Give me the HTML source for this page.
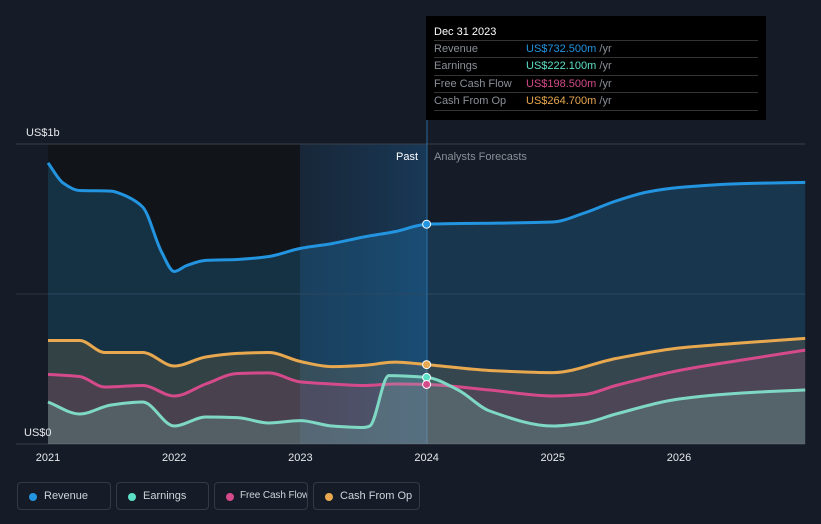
<!DOCTYPE html>
<html><head><meta charset="utf-8"><style>
body{margin:0;background:#161c27;font-family:"Liberation Sans",sans-serif;}
#wrap{position:relative;width:821px;height:524px;overflow:hidden;background:#161c27}
.tt{position:absolute;left:426px;top:16px;width:340px;height:104px;background:#000;color:#fff;font-size:11px}
.tt .h{position:absolute;left:8px;top:10px;font-size:11px}
.row{position:absolute;left:8px;width:324px;height:17px;border-top:1px solid #333;color:#8a8f98;line-height:17px}
.row span{position:absolute;left:92px}
.lg{position:absolute;top:482px;height:28px;border:1px solid #333a46;border-radius:4px;color:#cfd3da;font-size:11px;line-height:26px;box-sizing:border-box;padding-left:26px;white-space:nowrap;overflow:hidden}
.lg i{position:absolute;left:11px;top:10px;width:8px;height:8px;border-radius:50%}
</style></head><body><div id="wrap">
<svg id="svg" width="821" height="524" style="position:absolute;left:0;top:0">
<defs><linearGradient id="pg" x1="0" x2="1"><stop offset="0" stop-color="#1a3c5a" stop-opacity="0.35"/><stop offset="1" stop-color="#1a4c78" stop-opacity="0.6"/></linearGradient></defs>
<rect x="48" y="144" width="252" height="300" fill="#111519"/>
<rect x="300" y="144" width="127" height="300" fill="url(#pg)"/>
<line x1="16" x2="805" y1="144" y2="144" stroke="#3a404b"/>
<line x1="16" x2="805" y1="294" y2="294" stroke="#2c333e"/>
<line x1="16" x2="805" y1="444" y2="444" stroke="#3a404b"/>
<line x1="427" x2="427" y1="120" y2="444" stroke="#2a6a9a"/>
<g id="series"></g>
<text x="26" y="136" fill="#e6e8eb" font-size="11">US$1b</text>
<text x="24" y="436" fill="#e6e8eb" font-size="11">US$0</text>
<text x="418" y="160" fill="#fff" font-size="11" text-anchor="end">Past</text>
<text x="434" y="160" fill="#8a8f98" font-size="11">Analysts Forecasts</text>
<g id="xt"></g>
</svg>
<div class="tt">
<div class="h">Dec 31 2023</div>
<div class="row" style="top:24px">Revenue<span style="color:#2394df">US$732.500m <b style="color:#8a8f98;font-weight:normal">/yr</b></span></div>
<div class="row" style="top:41px">Earnings<span style="color:#5ce0c8">US$222.100m <b style="color:#8a8f98;font-weight:normal">/yr</b></span></div>
<div class="row" style="top:59px">Free Cash Flow<span style="color:#d44a8a">US$198.500m <b style="color:#8a8f98;font-weight:normal">/yr</b></span></div>
<div class="row" style="top:76px;border-bottom:1px solid #333">Cash From Op<span style="color:#e8a84f">US$264.700m <b style="color:#8a8f98;font-weight:normal">/yr</b></span></div>
</div>
<div class="lg" style="left:17px;width:94px"><i style="background:#2394df"></i>Revenue</div>
<div class="lg" style="left:116px;width:93px"><i style="background:#5ce0c8"></i>Earnings</div>
<div class="lg" style="left:214px;width:94px;font-size:10px;letter-spacing:-0.1px;padding-left:25px"><i style="background:#d44a8a"></i>Free Cash Flow</div>
<div class="lg" style="left:313px;width:107px"><i style="background:#e8a84f"></i>Cash From Op</div>
</div>
<script>
const years=[2021,2022,2023,2024,2025,2026];
const revX=[0,0.12,0.25,0.5,0.6,0.75,0.9,1.0,1.1,1.25,1.5,1.75,2.0,2.25,2.5,2.75,3.0,3.25,3.5,4.0,4.25,4.5,4.75,5.0,5.5,6.0];
const revV=[937,870,845,843,830,790,640,575,595,612,615,625,652,668,690,708,732.5,735,736,740,770,810,840,855,868,872];
const cfoX=[0,0.25,0.45,0.75,1.0,1.25,1.5,1.75,2.0,2.25,2.5,2.75,3.0,3.5,4.0,4.5,5.0,5.5,6.0];
const cfoV=[345,345,305,305,260,290,302,305,275,258,262,273,264.7,245,238,285,320,337,352];
const fcfX=[0,0.25,0.45,0.75,1.0,1.25,1.5,1.75,2.0,2.25,2.5,2.75,3.0,3.5,4.0,4.25,4.5,5.0,5.5,6.0];
const fcfV=[232,225,190,195,160,200,235,237,207,200,195,200,198.5,180,160,165,195,245,280,313];
const earX=[0,0.25,0.5,0.75,1.0,1.25,1.5,1.75,2.0,2.25,2.5,2.55,2.7,3.0,3.25,3.5,4.0,4.25,4.5,5.0,5.5,6.0];
const earV=[140,100,130,140,60,90,88,70,78,60,55,60,228,222.1,180,110,60,70,100,150,170,180];
const X=t=>48+t*126.2, Y=v=>444-v*0.3;
const NS="http://www.w3.org/2000/svg";
function path(xs,vs){const px=xs.map(X),py=vs.map(Y),n=px.length;
const dl=[],m=[];for(let i=0;i<n-1;i++)dl.push((py[i+1]-py[i])/(px[i+1]-px[i]));
for(let i=0;i<n;i++){if(i==0)m.push(dl[0]);else if(i==n-1)m.push(dl[n-2]);else if(dl[i-1]*dl[i]<=0)m.push(0);else m.push(2/(1/dl[i-1]+1/dl[i]));}
let d="M"+px[0]+","+py[0];
for(let i=0;i<n-1;i++){const h=(px[i+1]-px[i])/3;d+=" C"+(px[i]+h)+","+(py[i]+m[i]*h)+" "+(px[i+1]-h)+","+(py[i+1]-m[i+1]*h)+" "+px[i+1]+","+py[i+1];}
return d;}
const g=document.getElementById("series");
function add(xs,vs,col,fo,name){const d=path(xs,vs);
const f=document.createElementNS(NS,"path");f.setAttribute("d",d+" L"+X(xs[xs.length-1])+",444 L"+X(xs[0])+",444Z");
f.setAttribute("fill",col);f.setAttribute("fill-opacity",fo);


g.appendChild(f);
const l=document.createElementNS(NS,"path");l.setAttribute("d",d);l.setAttribute("fill","none");l.setAttribute("stroke",col);l.setAttribute("stroke-width","3");


g.appendChild(l);}
add(revX,revV,"#2394df",0.22,"revenue");
add(cfoX,cfoV,"#e8a84f",0.14,"cash-from-op");
add(fcfX,fcfV,"#d44a8a",0.14,"free-cash-flow");
add(earX,earV,"#7fd8c4",0.2,"earnings");
[[revV[16],"#2394df","revenue"],[cfoV[12],"#e8a84f","cash-from-op"],[earV[13],"#5ce0c8","earnings"],[fcfV[12],"#d44a8a","free-cash-flow"]].forEach(([v,c,n])=>{
const ci=document.createElementNS(NS,"circle");ci.setAttribute("cx",X(3));ci.setAttribute("cy",Y(v));ci.setAttribute("r","4");ci.setAttribute("fill",c);ci.setAttribute("stroke","#fff");ci.setAttribute("stroke-width","1");


g.appendChild(ci);});
const xt=document.getElementById("xt");
years.forEach((yr,i)=>{const t=document.createElementNS(NS,"text");t.setAttribute("x",X(i));t.setAttribute("y",461);t.setAttribute("fill","#e6e8eb");t.setAttribute("font-size","11");t.setAttribute("text-anchor","middle");t.textContent=yr;


xt.appendChild(t);});
</script>
</body></html>
